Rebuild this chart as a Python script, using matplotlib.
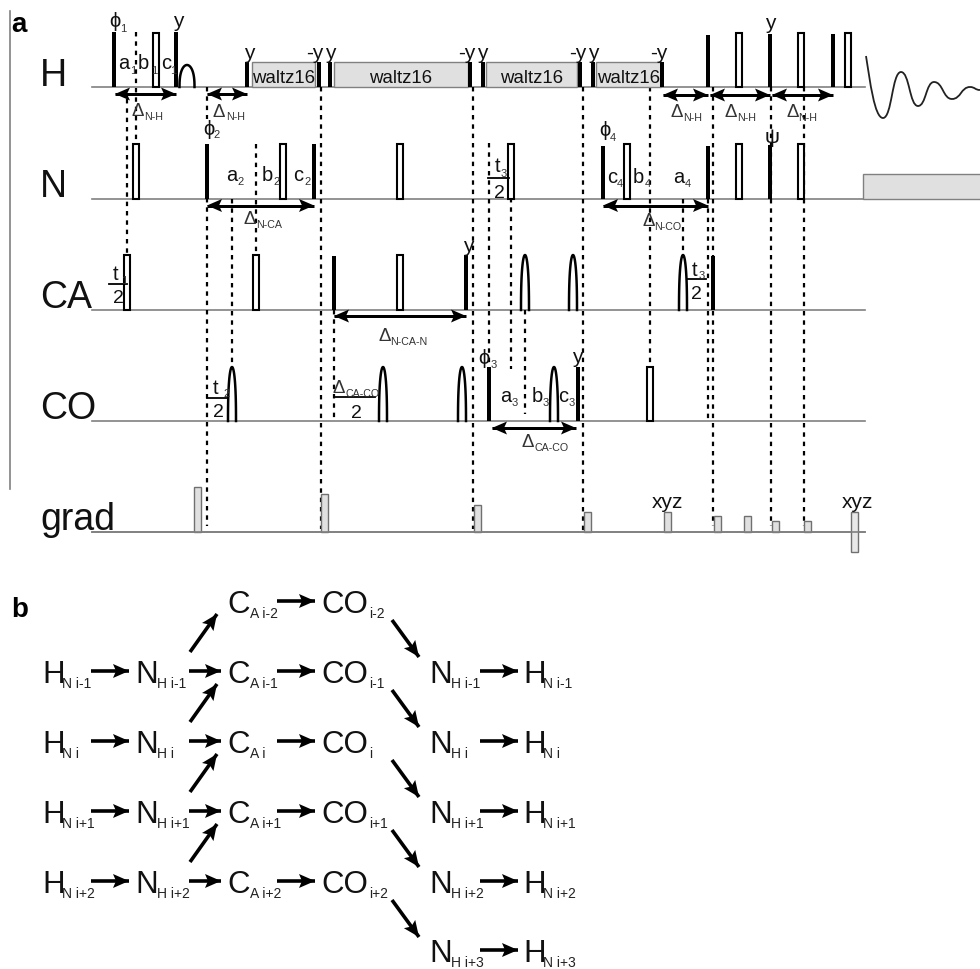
import numpy as np
import matplotlib
matplotlib.use("Agg")
import matplotlib.pyplot as plt
from matplotlib.patches import Rectangle, Polygon, PathPatch
from matplotlib.path import Path

plt.rcParams["font.family"] = ["Liberation Sans", "DejaVu Sans"]

# channel baselines
channels = ["H", "N", "CA", "CO", "grad"]
channel_y = [88, 199.5, 311, 422, 533]
channel_label_y = [86, 197, 308, 419, 530]

# pulses: position and top edge
h_filled_x = [114, 176, 247, 319, 330, 470, 483, 580, 593, 662, 708, 770, 833]
h_filled_top = [33, 33, 63, 63, 63, 63, 63, 63, 63, 63, 36, 35, 35]
h_open_x = [156, 739, 801, 848]
h_open_top = [34, 34, 34, 34]
h_shaped = [(187, 66, 15)]

n_filled_x = [207, 314, 603, 708, 770]
n_filled_top = [145, 145, 147, 147, 146]
n_open_x = [136, 283, 400, 511, 627, 739, 801]
n_open_top = [145, 145, 145, 145, 145, 145, 145]

ca_filled_x = [334, 466, 713]
ca_filled_top = [257, 256, 257]
ca_open_x = [127, 256, 400]
ca_open_top = [256, 256, 256]
ca_shaped = [(525, 256, 8), (573, 256, 8), (683, 256, 8)]

co_filled_x = [489, 578]
co_filled_top = [368, 368]
co_open_x = [650]
co_open_top = [368]
co_shaped = [(232, 368, 8), (383, 368, 8), (462, 368, 8), (554, 368, 8)]

grad_x = [197, 324, 477, 587, 667, 717, 747, 775, 807]
grad_top = [488, 495, 506, 513, 513, 517, 517, 522, 522]
grad_neg_x = 854
grad_neg_range = (513, 553)

waltz_boxes = [(252, 315), (334, 468), (486, 577), (596, 661)]

# dotted guide lines
guides = [
    (127, 100, 256), (136, 33, 145), (207, 88, 120), (207, 199, 527),
    (232, 200, 368), (256, 145, 256), (321, 88, 530), (334, 311, 422),
    (473, 88, 530), (489, 144, 368), (511, 199, 370), (525, 311, 415),
    (583, 88, 533), (650, 88, 368), (683, 200, 256), (708, 200, 420),
    (713, 88, 527), (771, 88, 527), (804, 88, 527),
]

# double arrows
double_arrows = [
    (115, 176, 95), (207, 247, 95), (663, 708, 96), (710, 770, 96),
    (772, 833, 96), (207, 314, 206.5), (603, 708, 206.5), (334, 466, 317),
    (492, 576, 429),
]

# fid key points (extrema)
fid_x = [866, 883, 901, 918, 934, 952, 970, 980]
fid_y = [57, 119, 73, 107, 83, 100, 88, 91]

# small labels
plain_labels = [
    ("y", 173, 27), ("y", 244, 59), ("-y", 306, 59), ("y", 325, 59),
    ("-y", 458, 59), ("y", 477, 59), ("-y", 569, 59), ("y", 588, 59),
    ("-y", 650, 59), ("y", 765, 29), ("y", 463, 252), ("y", 572, 363),
    ("\u03c8", 765, 143), ("xyz", 652, 508), ("xyz", 842, 508),
]
sub_labels = [
    ("\u03d5", "1", 109, 27, 120, 32), ("\u03d5", "2", 203, 135, 213, 138),
    ("\u03d5", "3", 478.5, 364, 491, 368), ("\u03d5", "4", 599, 136, 610, 141),
    ("a", "1", 118, 69, 130, 74), ("b", "1", 138, 69, 151, 74), ("c", "1", 161, 69, 170, 74),
    ("a", "2", 226, 181, 237, 185), ("b", "2", 262, 181, 273, 185), ("c", "2", 293, 181, 304, 185),
    ("a", "3", 500, 402, 512, 406), ("b", "3", 532, 402, 543, 406), ("c", "3", 558, 402, 569, 406),
    ("a", "4", 673, 183, 685, 187), ("b", "4", 633, 183, 645, 187), ("c", "4", 607, 183, 617, 187),
    ("t", "1", 113, 280, 121, 284), ("t", "2", 213, 394, 223, 397),
    ("t", "3", 495, 172, 501, 177), ("t", "3", 692, 276, 699, 279),
]
delta_labels = [
    ("N-H", 131, 116, 144, 120), ("N-H", 212, 117, 226, 120), ("N-CA", 243, 224, 256, 228),
    ("N-CA-N", 378, 341, 390, 345), ("N-CO", 642, 226, 654, 230), ("N-H", 670, 117, 683, 121),
    ("N-H", 724, 117, 737, 121), ("N-H", 786, 117, 798, 121), ("CA-CO", 521, 447, 534, 451),
    ("CA-CO", 332, 393, 345, 397),
]
fractions = [
    (109, 127, 285, 118, 303), (207, 228, 399, 218, 417), (488, 509, 179, 499, 198),
    (687, 706, 280, 696, 299), (334, 375, 398, 356, 418),
]

# panel b, baseline of each row
row_y = [613, 683, 753, 823, 893, 962]
residues = ["i-2", "i-1", "i", "i+1", "i+2", "i+3"]
left_col_x = [42, 135]
mid_col_x = [227.5, 321]
right_col_x = [429, 523]

fig = plt.figure(figsize=(9.8, 9.7), dpi=100)
ax = fig.add_axes([0, 0, 1, 1])
ax.set_xlim(0, 980)
ax.set_ylim(970, 0)
ax.axis("off")

PX = 0.72  # pixels to points


def text(x, y, s, size, color="#111111", **kw):
    ax.text(x, y, s, fontsize=size, color=color, ha=kw.pop("ha", "left"), va="baseline", zorder=6, **kw)


def head(x0, y0, x1, y1, length=16, half=7, notch=3):
    # swept arrow head with its tip on (x1, y1)
    d = np.array([x1 - x0, y1 - y0], dtype=float)
    d /= np.hypot(*d)
    n = np.array([-d[1], d[0]])
    tip = np.array([x1, y1])
    back = tip - d * length
    ax.add_patch(Polygon([tip, back + n * half, tip - d * (length - notch), back - n * half],
                         closed=True, fc="black", ec="none", zorder=5))


def arrow(x0, y0, x1, y1, lw=3.6, both=False, **kw):
    ax.plot([x0, x1], [y0, y1], color="black", lw=lw * PX, solid_capstyle="butt", zorder=5)
    head(x0, y0, x1, y1, **kw)
    if both:
        head(x1, y1, x0, y0, **kw)


def draw_pulses(base, filled_x, filled_top, open_x, open_top, shaped=()):
    for x, top in zip(filled_x, filled_top):
        ax.add_patch(Rectangle((x - 2, top), 4, base - top, fc="black", ec="none", zorder=3))
    for x, top in zip(open_x, open_top):
        ax.add_patch(Rectangle((x - 3, top), 6, base - top, fc="white", ec="black", lw=1.5, zorder=3))
    for x, top, width in shaped:
        t = np.linspace(0, np.pi, 40)
        ax.plot(x - width / 2 * np.cos(t), base - (base - top) * np.sin(t) ** 0.8,
                color="black", lw=1.8, zorder=3)


# guides under the pulses
for x, y0, y1 in guides:
    ax.plot([x, x], [y0, y1], color="black", lw=1.6, ls=(0, (2, 2.2)), dash_capstyle="butt", zorder=2)

ax.plot([10, 10], [12, 490], color="#808080", lw=1.2)
for name, y, label_y in zip(channels, channel_y, channel_label_y):
    ax.plot([92, 865], [y, y], color="#808080", lw=1.2, zorder=1)
    text(40, label_y, name, 27)

for x0, x1 in waltz_boxes:
    ax.add_patch(Rectangle((x0, 63), x1 - x0, 25, fc="#e0e0e0", ec="#808080", lw=1, zorder=2))
    text((x0 + x1) / 2, 83, "waltz16", 13.4, ha="center")

draw_pulses(channel_y[0], h_filled_x, h_filled_top, h_open_x, h_open_top, h_shaped)
draw_pulses(channel_y[1], n_filled_x, n_filled_top, n_open_x, n_open_top)
draw_pulses(channel_y[2], ca_filled_x, ca_filled_top, ca_open_x, ca_open_top, ca_shaped)
draw_pulses(channel_y[3], co_filled_x, co_filled_top, co_open_x, co_open_top, co_shaped)

for x, top in zip(grad_x, grad_top):
    ax.add_patch(Rectangle((x - 3.5, top), 7, channel_y[4] - top, fc="#e0e0e0", ec="#707070", lw=1, zorder=3))
ax.add_patch(Rectangle((grad_neg_x - 3.5, grad_neg_range[0]), 7, grad_neg_range[1] - grad_neg_range[0],
                       fc="#e8e8e8", ec="#707070", lw=1, zorder=3))
ax.plot([92, 865], [channel_y[4]] * 2, color="#808080", lw=1.2, zorder=4)

# acquisition
ax.add_patch(Rectangle((863, 175), 130, channel_y[1] - 175, fc="#e0e0e0", ec="#808080", lw=1, zorder=2))
verts = [(fid_x[0], fid_y[0])]
codes = [Path.MOVETO]
for i in range(len(fid_x) - 1):
    mid = (fid_x[i] + fid_x[i + 1]) / 2
    first = (fid_x[i] + 4, fid_y[i] + 25) if i == 0 else (mid, fid_y[i])
    verts += [first, (mid, fid_y[i + 1]), (fid_x[i + 1], fid_y[i + 1])]
    codes += [Path.CURVE4] * 3
ax.add_patch(PathPatch(Path(verts, codes), fc="none", ec="#222222", lw=1.3, zorder=3))

for x0, x1, y in double_arrows:
    arrow(x0, y, x1, y, lw=3, both=True, length=15, half=6.5, notch=3)

for s, x, y in plain_labels:
    text(x, y, s, 15)
for main, sub, x, y, sx, sy in sub_labels:
    text(x, y, main, 14.5)
    text(sx, sy, sub, 8, color="#333333")
for sub, x, y, sx, sy in delta_labels:
    text(x, y, "\u0394", 13.5, color="#333333")
    text(sx, sy, sub, 7.7, color="#333333")
for x0, x1, y, two_x, two_y in fractions:
    ax.plot([x0, x1], [y, y], color="black", lw=1.3, zorder=5)
    text(two_x, two_y, "2", 14, ha="center")

text(11, 32, "a", 20, color="black", fontweight="bold")
text(11, 617, "b", 20, color="black", fontweight="bold")


def species(x, row, main, sub, sub_x):
    y = row_y[row]
    text(x, y, main, 22.5)
    text(sub_x, y + 5, f"{sub} {residues[row]}" if sub else residues[row], 10, color="#222222")


for row in range(1, 5):
    mid_y = row_y[row] - 11
    species(left_col_x[0], row, "H", "N", 62)
    species(left_col_x[1], row, "N", "H", 157)
    arrow(91, mid_y, 129, mid_y)
    arrow(189, mid_y, 221, mid_y)
    arrow(190, row_y[row] - 30, 217, row_y[row] - 68)
for row in range(0, 5):
    mid_y = row_y[row] - 11
    species(mid_col_x[0], row, "C", "A", 250)
    species(mid_col_x[1], row, "CO", "", 369)
    arrow(277, mid_y, 315, mid_y)
    arrow(392, row_y[row] + 8, 419, row_y[row] + 45)
for row in range(1, 6):
    mid_y = row_y[row] - 11
    species(right_col_x[0], row, "N", "H", 451)
    species(right_col_x[1], row, "H", "N", 543)
    arrow(480, mid_y, 518, mid_y)

fig.savefig("out.png", dpi=100)
